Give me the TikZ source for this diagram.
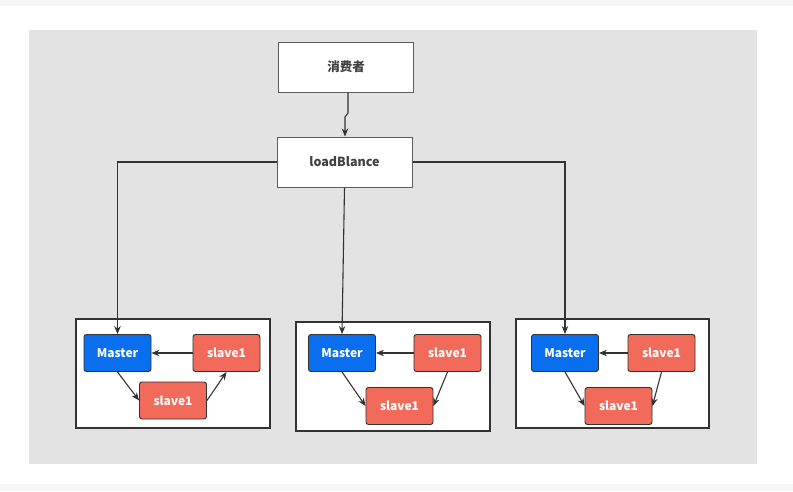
\documentclass[tikz,border=0pt]{standalone}
\usepackage{fontspec}
\setmainfont{Noto Sans CJK SC}
\usetikzlibrary{arrows.meta}
\definecolor{bgray}{HTML}{E3E3E3}
\definecolor{mblue}{HTML}{0A6FEE}
\definecolor{sred}{HTML}{F26A5A}
\definecolor{edge}{HTML}{333333}
\tikzset{
  topbox/.style={draw=edge!80, line width=1pt, fill=white, minimum width=135pt, minimum height=50pt, inner sep=0pt, font=\bfseries\fontsize{12.5}{14}\selectfont, text=black!75},
  grp/.style={draw=edge, line width=1.1pt, fill=white},
  master/.style={draw=edge, line width=0.9pt, fill=mblue, rounded corners=2.5pt, minimum width=67pt, minimum height=37pt, inner sep=0pt, text=white, font=\bfseries\fontsize{12}{14}\selectfont},
  slave/.style={master, fill=sred},
  conn/.style={draw=edge, line width=1.1pt, -{Stealth[length=8pt,width=6.5pt]}},
}
\begin{document}
\begin{tikzpicture}[x=1pt,y=-1pt]
\useasboundingbox (0,0) rectangle (793,491);
\fill[white] (0,0) rectangle (793,491);
\fill[black!4] (0,0) rectangle (793,6);
\fill[black!3] (0,484) rectangle (793,491);
\fill[bgray] (29,30) rectangle (757,464);

\node[topbox] (cons) at (346,67) {消费者};
\node[topbox] (lb) at (344.5,162) {loadBlance};

% groups
\draw[grp] (76,319) rectangle (270,428);
\draw[grp] (296,322) rectangle (490,431);
\draw[grp] (516,319) rectangle (709,428);

% group 1
\node[master] (m1) at (117.5,353) {Master};
\node[slave] (r1) at (226.5,353) {slave1};
\node[slave] (b1) at (173,400.5) {slave1};
% group 2
\node[master] (m2) at (342,353) {Master};
\node[slave] (r2) at (447.5,353) {slave1};
\node[slave] (b2) at (399.5,406) {slave1};
% group 3
\node[master] (m3) at (565,353) {Master};
\node[slave] (r3) at (661.5,353) {slave1};
\node[slave] (b3) at (618.5,406) {slave1};

% top connectors
\coordinate (c1) at (348,113);
\coordinate (c2) at (345,117);
\draw[conn] (cons.south -| c1) -- (c1) -- (c2) -- (c2 |- lb.north);
\draw[conn] (lb.west) -| (m1.north);
\draw[conn] (lb.south) -- (m2.north);
\draw[conn] (lb.east) -| (m3.north);

% group 1 arrows
\draw[conn] (r1.west) -- (m1.east);
\draw[conn] (m1.south) -- (b1.west);
\draw[conn] (b1.east) -- (r1.south);
% group 2 arrows
\draw[conn] (r2.west) -- (m2.east);
\draw[conn] (m2.south) -- (b2.west);
\draw[conn] (r2.south) -- (b2.east);
% group 3 arrows
\draw[conn] (r3.west) -- (m3.east);
\draw[conn] (m3.south) -- (b3.west);
\draw[conn] (r3.south) -- (b3.east);
\end{tikzpicture}
\end{document}
